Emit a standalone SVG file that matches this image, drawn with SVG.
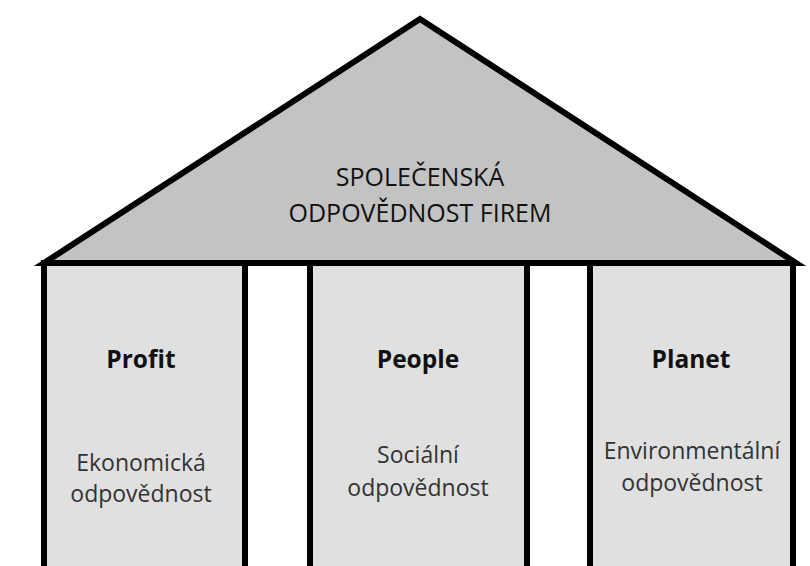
<svg xmlns="http://www.w3.org/2000/svg" width="810" height="566" viewBox="0 0 810 566">
<style>
.roof{fill:#c3c3c3;stroke:#000;stroke-width:6;stroke-linejoin:miter}
.pillar{fill:#e0e0e0;stroke:#000;stroke-width:6}
.title{font-family:"Open Sans","Liberation Sans",sans-serif;font-size:25px;fill:#111;text-anchor:middle}
.head{font-family:"Open Sans","Liberation Sans",sans-serif;font-size:24.5px;font-weight:bold;fill:#111;text-anchor:middle}
.sub{font-family:"Open Sans","Liberation Sans",sans-serif;font-size:23px;fill:#333;text-anchor:middle}
</style>
<rect width="810" height="566" fill="#fff"/>
<g id="roof">
<polygon class="roof" points="420,19 44,263 796,263"/>
<text class="title" x="420" y="186">SPOLEČENSKÁ</text>
<text class="title" x="420" y="222">ODPOVĚDNOST FIREM</text>
</g>
<g id="profit">
<rect class="pillar" x="44" y="263" width="201" height="320"/>
<text class="head" x="141" y="368">Profit</text>
<text class="sub" x="141" y="471">Ekonomická</text>
<text class="sub" x="141" y="502">odpovědnost</text>
</g>
<g id="people">
<rect class="pillar" x="310" y="263" width="217" height="320"/>
<text class="head" x="418" y="368">People</text>
<text class="sub" x="418" y="463">Sociální</text>
<text class="sub" x="418" y="496">odpovědnost</text>
</g>
<g id="planet">
<rect class="pillar" x="590" y="263" width="203" height="320"/>
<text class="head" x="691" y="368">Planet</text>
<text class="sub" x="692" y="459">Environmentální</text>
<text class="sub" x="692" y="491">odpovědnost</text>
</g>
<g id="connectors"/>
</svg>
